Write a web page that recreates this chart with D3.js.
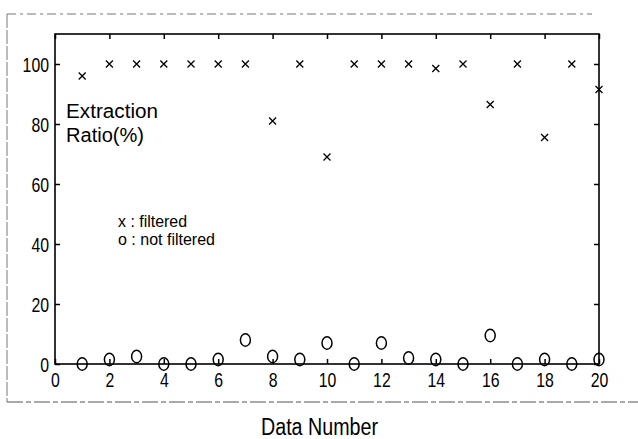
<!DOCTYPE html>
<html><head><meta charset="utf-8">
<script src="https://cdn.jsdelivr.net/npm/d3@7"></script>
<style>
html,body{margin:0;padding:0;background:#fff;}
text{font-family:"Liberation Sans",Arial,sans-serif;fill:#000;}
</style></head>
<body>
<script>
const dataNumbers = [1,2,3,4,5,6,7,8,9,10,11,12,13,14,15,16,17,18,19,20];
const filtered    = [96,100,100,100,100,100,100,81,100,69,100,100,100,98.5,100,86.5,100,75.5,100,91.5];
const notFiltered = [0,1.5,2.5,0,0,1.5,8,2.5,1.5,7,0,7,2,1.5,0,9.5,0,1.5,0,1.5];
const xTicks = [0,2,4,6,8,10,12,14,16,18,20];
const yTicks = [0,20,40,60,80,100];
const yLabelLines = ["Extraction","Ratio(%)"];
const legendLines = ["x : filtered","o : not filtered"];
const xTitle = "Data Number";

const W = 638, H = 439;
const m = {left:55, right:599, top:34, bottom:364};
const svg = d3.select("body").append("svg").attr("width",W).attr("height",H);

const x = d3.scaleLinear().domain([0,20]).range([m.left,m.right]);
const y = d3.scaleLinear().domain([0,110]).range([m.bottom,m.top]);

function narrow(sel, perChar){
  sel.each(function(){
    const t = d3.select(this);
    const n = t.text().length;
    t.attr("textLength", n*perChar).attr("lengthAdjust","spacingAndGlyphs");
  });
}

// outer scanned frame
svg.append("line").attr("x1",7).attr("x2",592).attr("y1",14).attr("y2",14)
  .attr("stroke","#777").attr("stroke-width",1).attr("stroke-dasharray","9,4,3,4");
svg.append("line").attr("x1",7).attr("x2",7).attr("y1",14).attr("y2",402)
  .attr("stroke","#777").attr("stroke-width",1).attr("stroke-dasharray","14,2");
svg.append("line").attr("x1",7).attr("x2",638).attr("y1",402).attr("y2",402)
  .attr("stroke","#555").attr("stroke-width",1).attr("stroke-dasharray","16,3,5,3");

// plot box
svg.append("rect").attr("x",m.left).attr("y",m.top).attr("width",m.right-m.left).attr("height",m.bottom-m.top)
  .attr("fill","none").attr("stroke","#000").attr("stroke-width",1.6);

const xAxis = svg.append("g").attr("transform",`translate(0,${m.bottom})`)
  .call(d3.axisBottom(x).tickValues(xTicks).tickSizeInner(-5).tickSizeOuter(0).tickPadding(9).tickFormat(d3.format("d")));
const yAxis = svg.append("g").attr("transform",`translate(${m.left},0)`)
  .call(d3.axisLeft(y).tickValues(yTicks).tickSizeInner(-5).tickSizeOuter(0).tickPadding(6).tickFormat(d3.format("d")));
svg.append("g").attr("transform",`translate(0,${m.top})`)
  .call(d3.axisTop(x).tickValues(xTicks).tickSizeInner(-5).tickSizeOuter(0).tickFormat(""));
svg.append("g").attr("transform",`translate(${m.right},0)`)
  .call(d3.axisRight(y).tickValues(yTicks).tickSizeInner(-5).tickSizeOuter(0).tickFormat(""));
svg.selectAll(".domain").remove();
svg.selectAll(".tick line").attr("stroke","#000").attr("stroke-width",1.5);
svg.selectAll(".tick text").attr("font-size","21px")
  .style("font-family",'"Liberation Sans",Arial,sans-serif').attr("fill","#000");
yAxis.selectAll(".tick text").attr("dy","0.36em");
xAxis.selectAll(".tick text").attr("dy","0.68em");
svg.selectAll(".tick text").filter(function(){return this.textContent!=="";}).call(narrow, 8.8);

// x markers
const s = 3.5;
svg.append("g").selectAll("path").data(dataNumbers).join("path")
  .attr("d",(d,i)=>{const cx=x(d), cy=y(filtered[i]);
     return `M${cx-s},${cy-s}L${cx+s},${cy+s}M${cx+s},${cy-s}L${cx-s},${cy+s}`;})
  .attr("stroke","#000").attr("stroke-width",1.3).attr("fill","none");

// o markers
svg.append("g").selectAll("ellipse").data(dataNumbers).join("ellipse")
  .attr("cx",d=>x(d)).attr("cy",(d,i)=>y(notFiltered[i]))
  .attr("rx",5).attr("ry",6.2)
  .attr("fill","none").attr("stroke","#000").attr("stroke-width",1.5);

// y label inside plot
const ylW = [92,78];
svg.append("g").selectAll("text").data(yLabelLines).join("text")
  .attr("x",66).attr("y",(d,i)=>118+i*24).attr("font-size","20px")
  .attr("textLength",(d,i)=>ylW[i]).attr("lengthAdjust","spacingAndGlyphs").text(d=>d);

// legend text
const lgW = [69,97];
svg.append("g").selectAll("text").data(legendLines).join("text")
  .attr("x",118).attr("y",(d,i)=>227+i*18).attr("font-size","17px")
  .attr("textLength",(d,i)=>lgW[i]).attr("lengthAdjust","spacingAndGlyphs").text(d=>d);

svg.append("text").attr("x",261).attr("y",435)
  .attr("font-size","23px").attr("textLength",117).attr("lengthAdjust","spacingAndGlyphs").text(xTitle);
</script>
</body></html>
